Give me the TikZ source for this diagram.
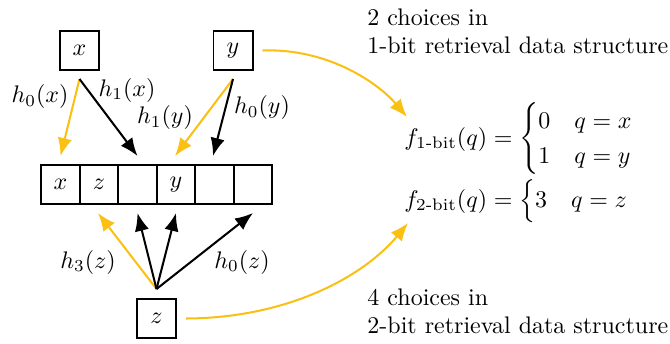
\documentclass[tikz,border=0pt]{standalone}
\usepackage{amsmath}
\usetikzlibrary{arrows.meta,calc}
\definecolor{gold}{RGB}{250,192,20}
\begin{document}
\begin{tikzpicture}[x=0.417pt,y=-0.417pt,
  keybox/.style={draw,line width=0.8pt,minimum width=16.3pt,minimum height=16.3pt,inner sep=0pt},
  cell/.style={draw,line width=0.8pt,minimum width=16.05pt,minimum height=16.3pt,inner sep=0pt},
  arr/.style={line width=0.85pt,-{Latex[length=7.5pt,width=6pt]}},
  yarr/.style={arr,draw=gold,fill=gold},
  barr/.style={arr,draw=black},
  lbl/.style={inner sep=0pt},
  txt/.style={inner sep=0pt,align=left,anchor=north west}]
\useasboundingbox (0,0) rectangle (670,343);
\node[keybox] (x) at (79.5,50.5) {$x$};
\node[keybox] (y) at (233,50.5) {$y$};
\node[keybox] (z) at (156.5,318.5) {$z$};
\node[cell] (c1) at (60.5,184.5) {$x$};
\node[cell] (c2) at (99,184.5) {$z$};
\node[cell] (c3) at (137.5,184.5) {};
\node[cell] (c4) at (176,184.5) {$y$};
\node[cell] (c5) at (214.5,184.5) {};
\node[cell] (c6) at (253,184.5) {};
\coordinate (xs) at ($(x.south)+(0,8)$);
\coordinate (ys) at ($(y.south)+(0,8)$);
\coordinate (zs) at ($(z.north)+(0,-9)$);
\draw[yarr] (xs) -- ($(c1.north)+(0,-8)$);
\draw[barr] (xs) -- ($(c3.north)+(0,-8)$);
\draw[yarr] (ys) -- ($(c4.north)+(-1,-8)$);
\draw[barr] (ys) -- ($(c5.north)+(-1.5,-8)$);
\draw[yarr] (zs) -- ($(c2.south)+(-1,8)$);
\draw[barr] (zs) -- ($(c3.south)+(0,8)$);
\draw[barr] (zs) -- ($(c4.south)+(0,8)$);
\draw[barr] (zs) -- ($(c6.south)+(0,8)$);
\node[lbl] (lhx0) at (40,97) {$h_0(x)$};
\node[lbl] (lhx1) at (127,90) {$h_1(x)$};
\node[lbl] (lhy1) at (165,118) {$h_1(y)$};
\node[lbl] (lhy0) at (262,108) {$h_0(y)$};
\node[lbl] (lhz3) at (88,262) {$h_3(z)$};
\node[lbl] (lhz0) at (242,262) {$h_0(z)$};
\node[txt] (t1) at (367,8) {2 choices in\\1-bit retrieval data structure};
\node[txt] (t2) at (367,288) {4 choices in\\2-bit retrieval data structure};
\node[inner sep=0pt,anchor=west] (f1) at (404,139) {$f_{\text{1-bit}}(q)=\begin{cases}0 & q=x\\ 1 & q=y\end{cases}$};
\node[inner sep=0pt,anchor=west] (f2) at (404,201) {$f_{\text{2-bit}}(q)=\begin{cases}3 & q=z\end{cases}$};
\draw[yarr,fill=none] ($(y.east)+(9,0)$) .. controls (330,48) and (380,85) .. ($(f1.west)+(3,-22)$);
\draw[yarr,fill=none] ($(z.east)+(9,0)$) .. controls (290,318) and (365,275) .. ($(f2.west)+(4,22)$);
\end{tikzpicture}
\end{document}
